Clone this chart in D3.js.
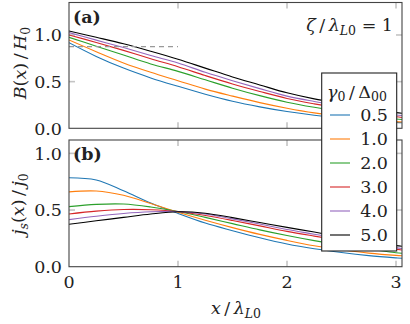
<!DOCTYPE html>
<meta charset="utf-8">
<head>
  <script src="https://d3js.org/d3.v7.min.js"></script>
  <style>
    body { margin: 0; background: #fff; }
  </style>
</head>
<body>
<div id="chart"></div>
<script>

// ---- data ----
var xVals = [0, 0.25, 0.5, 0.75, 1, 1.25, 1.5, 1.75, 2, 2.25, 2.5, 2.75, 3, 3.06];
var gammaLabels = ["0.5", "1.0", "2.0", "3.0", "4.0", "5.0"];

// B(x)/H0, panel (a)
var bG05 = [0.917, 0.77, 0.645, 0.54, 0.45, 0.365, 0.29, 0.23, 0.18, 0.14, 0.108, 0.083, 0.063, 0.06];
var bG10 = [0.946, 0.82, 0.70, 0.60, 0.51, 0.42, 0.345, 0.275, 0.215, 0.165, 0.128, 0.098, 0.072, 0.068];
var bG20 = [0.975, 0.88, 0.785, 0.69, 0.61, 0.52, 0.43, 0.35, 0.28, 0.225, 0.178, 0.138, 0.10, 0.094];
var bG30 = [1.0, 0.92, 0.835, 0.745, 0.66, 0.565, 0.475, 0.395, 0.32, 0.262, 0.212, 0.168, 0.123, 0.116];
var bG40 = [1.025, 0.945, 0.865, 0.78, 0.70, 0.60, 0.51, 0.425, 0.345, 0.288, 0.238, 0.192, 0.143, 0.136];
var bG50 = [1.043, 0.975, 0.905, 0.825, 0.74, 0.645, 0.55, 0.465, 0.38, 0.315, 0.265, 0.218, 0.168, 0.16];

// js(x)/j0, panel (b)
var jG05 = [0.785, 0.765, 0.67, 0.562, 0.47, 0.385, 0.318, 0.255, 0.2, 0.158, 0.125, 0.098, 0.078, 0.074];
var jG10 = [0.66, 0.668, 0.63, 0.557, 0.48, 0.41, 0.345, 0.285, 0.232, 0.185, 0.15, 0.12, 0.10, 0.097];
var jG20 = [0.53, 0.55, 0.553, 0.527, 0.487, 0.435, 0.38, 0.325, 0.275, 0.23, 0.19, 0.155, 0.123, 0.118];
var jG30 = [0.465, 0.49, 0.505, 0.503, 0.487, 0.452, 0.408, 0.36, 0.312, 0.27, 0.23, 0.19, 0.155, 0.147];
var jG40 = [0.415, 0.445, 0.47, 0.485, 0.487, 0.465, 0.422, 0.377, 0.328, 0.287, 0.246, 0.205, 0.168, 0.16];
var jG50 = [0.375, 0.405, 0.435, 0.465, 0.485, 0.472, 0.433, 0.39, 0.347, 0.306, 0.262, 0.222, 0.186, 0.18];

// dashed reference in (a)
var refLevel = 0.875;
var refRange = [0, 1];

var xTicks = [0, 1, 2, 3];
var yTicks = [0, 0.5, 1];

var colors = ["#1f77b4", "#ff7f0e", "#2ca02c", "#d62728", "#9467bd", "#000000"];
var bSeries = [bG05, bG10, bG20, bG30, bG40, bG50];
var jSeries = [jG05, jG10, jG20, jG30, jG40, jG50];

// ---- layout ----
var W = 410, H = 324;
var FONT = "'DejaVu Serif', serif";
var FS = "17.5px", SUB = "12.5px";
var SL = "\u2009/\u2009";
var svg = d3.select("#chart").append("svg")
  .attr("width", W).attr("height", H)
  .attr("font-family", FONT);

var x = d3.scaleLinear().domain([0, 3.055]).range([69, 402]);
var yA = d3.scaleLinear().domain([0, 1.348]).range([128.3, 2.5]);
var yB = d3.scaleLinear().domain([0, 1.118]).range([266.7, 140]);

var tickColor = "#c4c4c4", frameColor = "#444";

function txt(sel) {
  return sel.append("text").attr("font-family", FONT).attr("fill", "#222");
}

function panel(y, series, id, showXLabels) {
  var g = svg.append("g");
  var x0 = x.range()[0], x1 = x.range()[1];
  var yb = y.range()[0], yt = y.range()[1];

  g.append("clipPath").attr("id", id)
    .append("rect").attr("x", x0).attr("y", yt).attr("width", x1 - x0).attr("height", yb - yt);

  // inner ticks, both sides
  xTicks.filter(function(d) { return d > 0; }).forEach(function(t) {
    g.append("line").attr("x1", x(t)).attr("x2", x(t)).attr("y1", yb).attr("y2", yb - 6)
      .attr("stroke", tickColor).attr("stroke-width", 1.6);
    g.append("line").attr("x1", x(t)).attr("x2", x(t)).attr("y1", yt).attr("y2", yt + 6)
      .attr("stroke", tickColor).attr("stroke-width", 1.6);
  });
  yTicks.filter(function(d) { return d > 0; }).forEach(function(t) {
    g.append("line").attr("x1", x0).attr("x2", x0 + 6).attr("y1", y(t)).attr("y2", y(t))
      .attr("stroke", tickColor).attr("stroke-width", 1.6);
    g.append("line").attr("x1", x1).attr("x2", x1 - 6).attr("y1", y(t)).attr("y2", y(t))
      .attr("stroke", tickColor).attr("stroke-width", 1.6);
  });

  // y tick labels
  yTicks.forEach(function(t) {
    txt(g).attr("x", 62).attr("y", y(t) + 6.3)
      .attr("text-anchor", "end").style("font-size", FS).text(t.toFixed(1));
  });
  if (showXLabels) {
    xTicks.forEach(function(t) {
      txt(g).attr("x", x(t)).attr("y", yb + 21)
        .attr("text-anchor", "middle").style("font-size", FS).text(t);
    });
  }

  var line = d3.line()
    .x(function(d) { return x(d[0]); })
    .y(function(d) { return y(d[1]); })
    .curve(d3.curveCatmullRom.alpha(0.5));

  var lines = g.append("g").attr("clip-path", "url(#" + id + ")");
  series.forEach(function(s, i) {
    lines.append("path")
      .datum(xVals.map(function(xv, k) { return [xv, s[k]]; }))
      .attr("fill", "none")
      .attr("stroke", colors[i])
      .attr("stroke-width", 1.1)
      .attr("d", line);
  });

  g.append("rect").attr("x", x0).attr("y", yt).attr("width", x1 - x0).attr("height", yb - yt)
    .attr("fill", "none").attr("stroke", frameColor).attr("stroke-width", 1.1);
  return lines;
}

var linesA = panel(yA, bSeries, "clipA", false);
panel(yB, jSeries, "clipB", true);

// dashed guide in (a)
linesA.append("line")
  .attr("x1", x(refRange[0])).attr("x2", x(refRange[1]))
  .attr("y1", yA(refLevel)).attr("y2", yA(refLevel))
  .attr("stroke", "#999").attr("stroke-width", 1.1)
  .attr("stroke-dasharray", "5,4");

// panel labels
txt(svg).attr("x", 73).attr("y", 23)
  .style("font-size", FS).style("font-weight", "bold").text("(a)");
txt(svg).attr("x", 73).attr("y", 160)
  .style("font-size", FS).style("font-weight", "bold").text("(b)");

// parameter note
var note = txt(svg).attr("x", 393).attr("y", 31)
  .attr("text-anchor", "end").style("font-size", FS);
note.append("tspan").style("font-style", "italic").text("ζ");
note.append("tspan").text(SL);
note.append("tspan").style("font-style", "italic").text("λ");
note.append("tspan").attr("dy", 4).style("font-size", SUB).style("font-style", "italic").text("L");
note.append("tspan").style("font-size", SUB).text("0");
note.append("tspan").attr("dy", -4).text(" = 1");

// axis titles
var yLabA = txt(svg)
  .attr("transform", "translate(26,63) rotate(-90)")
  .attr("text-anchor", "middle").style("font-size", FS);
yLabA.append("tspan").style("font-style", "italic").text("B");
yLabA.append("tspan").text("(");
yLabA.append("tspan").style("font-style", "italic").text("x");
yLabA.append("tspan").text(")" + SL);
yLabA.append("tspan").style("font-style", "italic").text("H");
yLabA.append("tspan").attr("dy", 4).style("font-size", SUB).text("0");

var yLabB = txt(svg)
  .attr("transform", "translate(24,204) rotate(-90)")
  .attr("text-anchor", "middle").style("font-size", FS);
yLabB.append("tspan").style("font-style", "italic").text("j");
yLabB.append("tspan").attr("dy", 4).style("font-size", SUB).style("font-style", "italic").text("s");
yLabB.append("tspan").attr("dy", -4).text("(");
yLabB.append("tspan").style("font-style", "italic").text("x");
yLabB.append("tspan").text(")" + SL);
yLabB.append("tspan").style("font-style", "italic").text("j");
yLabB.append("tspan").attr("dy", 4).style("font-size", SUB).text("0");

var xLab = txt(svg)
  .attr("x", 236).attr("y", 314)
  .attr("text-anchor", "middle").style("font-size", FS);
xLab.append("tspan").style("font-style", "italic").text("x");
xLab.append("tspan").text(SL);
xLab.append("tspan").style("font-style", "italic").text("λ");
xLab.append("tspan").attr("dy", 4).style("font-size", SUB).style("font-style", "italic").text("L");
xLab.append("tspan").style("font-size", SUB).text("0");

// legend
var leg = svg.append("g");
leg.append("rect").attr("x", 321.7).attr("y", 73).attr("width", 75).attr("height", 178)
  .attr("fill", "#fff").attr("stroke", "#222").attr("stroke-width", 1.1);
var lt = txt(leg).attr("x", 327).attr("y", 98).style("font-size", FS);
lt.append("tspan").style("font-style", "italic").text("γ");
lt.append("tspan").attr("dy", 3).style("font-size", SUB).text("0");
lt.append("tspan").attr("dy", -3).text(SL + "Δ");
lt.append("tspan").attr("dy", 3).style("font-size", SUB).text("00");

gammaLabels.forEach(function(lab, i) {
  var yy = 115 + i * 24;
  leg.append("line").attr("x1", 330).attr("x2", 350).attr("y1", yy).attr("y2", yy)
    .attr("stroke", colors[i]).attr("stroke-width", 1.1);
  txt(leg).attr("x", 388).attr("y", yy + 6.3)
    .attr("text-anchor", "end").style("font-size", FS).text(lab);
});

</script>
</body>
